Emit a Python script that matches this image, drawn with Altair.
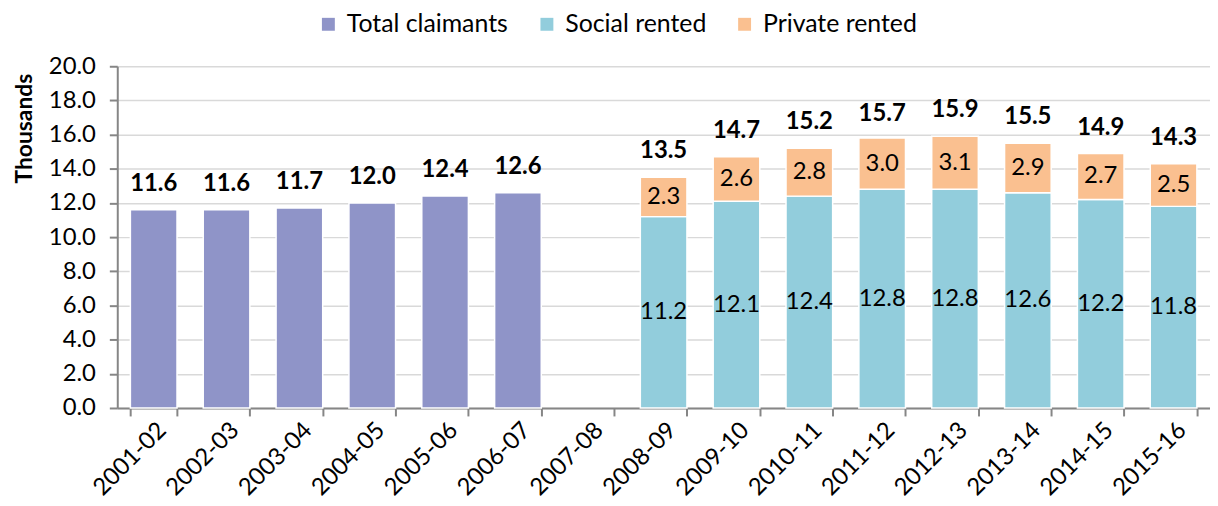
import altair as alt
import pandas as pd

years = ["2001-02", "2002-03", "2003-04", "2004-05", "2005-06", "2006-07", "2007-08",
         "2008-09", "2009-10", "2010-11", "2011-12", "2012-13", "2013-14", "2014-15", "2015-16"]
total_claimants = [11.6, 11.6, 11.7, 12.0, 12.4, 12.6, None,
                   None, None, None, None, None, None, None, None]
social_rented = [None, None, None, None, None, None, None,
                 11.2, 12.1, 12.4, 12.8, 12.8, 12.6, 12.2, 11.8]
private_rented = [None, None, None, None, None, None, None,
                  2.3, 2.6, 2.8, 3.0, 3.1, 2.9, 2.7, 2.5]
total_labels = [11.6, 11.6, 11.7, 12.0, 12.4, 12.6, None,
                13.5, 14.7, 15.2, 15.7, 15.9, 15.5, 14.9, 14.3]
y_ticks = [0, 2, 4, 6, 8, 10, 12, 14, 16, 18, 20]

series_names = ["Total claimants", "Social rented", "Private rented"]
series_colors = ["#8F94C8", "#92CDDC", "#FAC090"]

rows = []
for i, yr in enumerate(years):
    base = 0.0
    for name, vals in zip(series_names, [total_claimants, social_rented, private_rented]):
        v = vals[i]
        if v is None:
            continue
        rows.append({"year": yr, "series": name, "value": v,
                     "start": base, "end": base + v, "mid": base + v / 2})
        base += v
df = pd.DataFrame(rows)
seg = df[df["series"] != "Total claimants"]

tot = pd.DataFrame({"year": years, "total": total_labels}).dropna()

FONT = "Lato"
AX = "#868686"

xscale = alt.Scale(domain=years, paddingInner=0.36, paddingOuter=0.18)
yscale = alt.Scale(domain=[0, 20], nice=False)

xaxis = alt.Axis(labelAngle=-45, labelFontSize=24, labelColor="black",
                 tickBand="extent", tickSize=8, tickColor=AX, tickWidth=2,
                 domainColor=AX, domainWidth=2, labelPadding=2, grid=False,
                 labelOverlap=False)
yaxis = alt.Axis(values=y_ticks, format=".1f", title="Thousands",
                 titleFontSize=23, titleFontWeight="bold", titleColor="black",
                 titleAnchor="end", titleY=7,
                 labelFontSize=24, labelColor="black", labelPadding=14,
                 labelOverlap=False, labelFlush=False,
                 tickSize=8, tickColor=AX, tickWidth=2,
                 domainColor=AX, domainWidth=2, titlePadding=12,
                 grid=True, gridColor="#D9D9D9", gridWidth=1.5)

bars = alt.Chart(df).mark_bar(stroke="white", strokeWidth=1.5).encode(
    x=alt.X("year:N", title=None, scale=xscale, axis=xaxis),
    y=alt.Y("start:Q", scale=yscale, axis=yaxis, title="Thousands"),
    y2="end:Q",
    color=alt.Color("series:N",
                    scale=alt.Scale(domain=series_names, range=series_colors),
                    legend=alt.Legend(title=None, orient="none", direction="horizontal",
                                      legendX=200, legendY=-55,
                                      symbolType="square", symbolSize=169,
                                      symbolStrokeWidth=0, labelFontSize=25,
                                      labelLimit=400,
                                      labelColor="black", labelOffset=6,
                                      columnPadding=26, padding=0)),
)

seg_text = alt.Chart(seg).mark_text(fontSize=24, color="black", baseline="middle").encode(
    x=alt.X("year:N", title=None, scale=xscale, axis=xaxis),
    y=alt.Y("mid:Q", scale=yscale, axis=yaxis, title="Thousands"),
    text=alt.Text("value:Q", format=".1f"),
)

tot_text = alt.Chart(tot).mark_text(fontSize=24, fontWeight="bold", color="black",
                                    baseline="alphabetic", dy=-19).encode(
    x=alt.X("year:N", title=None, scale=xscale, axis=xaxis),
    y=alt.Y("total:Q", scale=yscale, axis=yaxis, title="Thousands"),
    text=alt.Text("total:Q", format=".1f"),
)

chart = alt.layer(bars, seg_text, tot_text).properties(
    width=1100, height=344,
    autosize=alt.AutoSizeParams(type="none"),
    padding={"left": 110, "top": 57, "right": 0, "bottom": 96},
).configure(font=FONT).configure_view(strokeWidth=0)

chart.save("out.html", embed_options={"renderer": "svg", "actions": False})
